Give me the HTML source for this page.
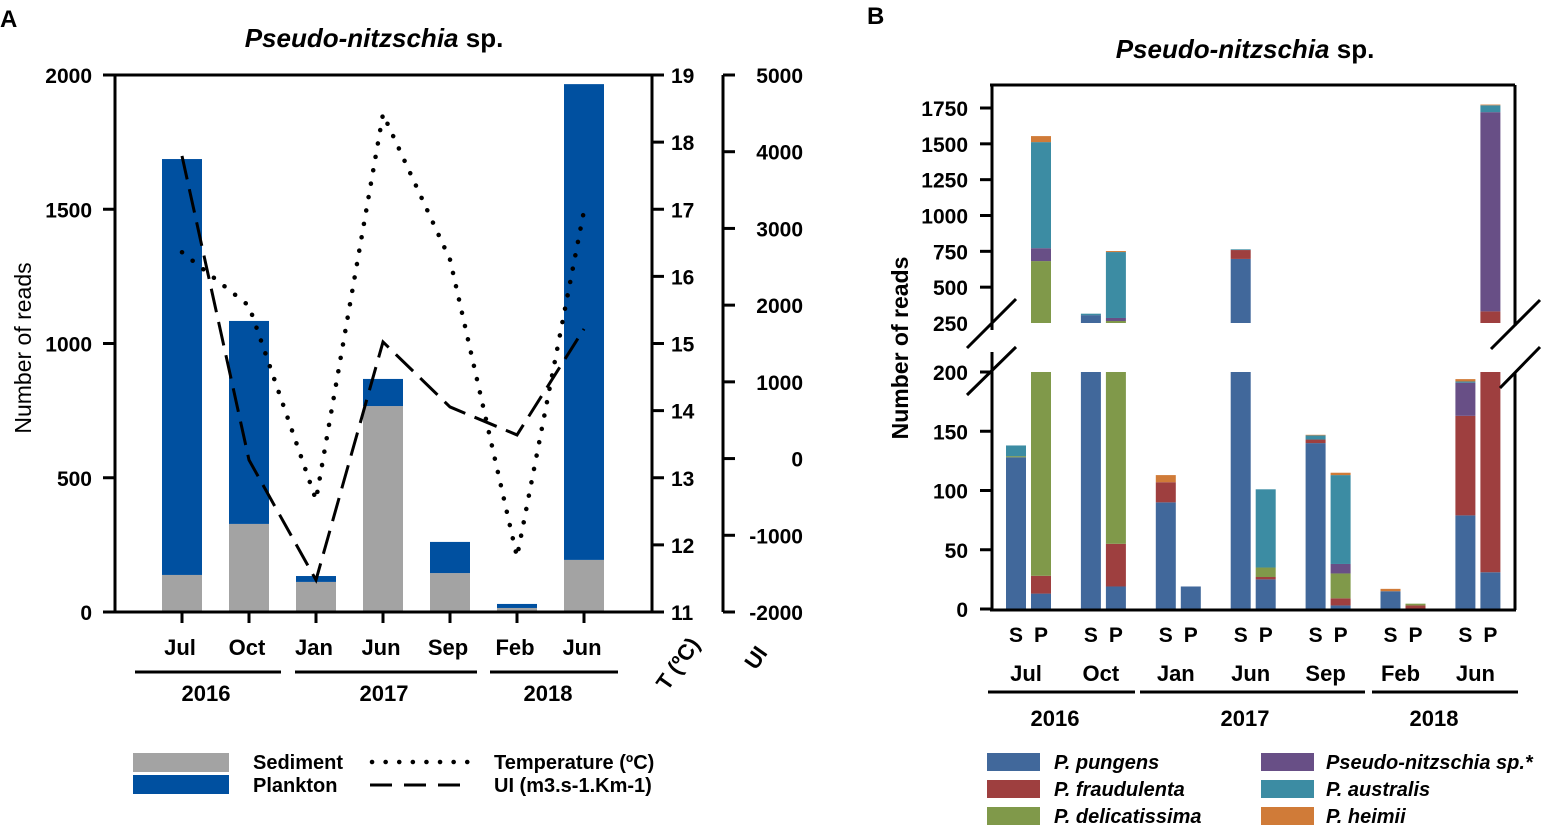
<!DOCTYPE html>
<html><head><meta charset="utf-8"><style>
body{margin:0;background:#fff;}
svg{display:block;font-family:"Liberation Sans",Arial,sans-serif;}
.b{font-weight:bold;}
</style></head><body>
<svg id="s" width="1545" height="829" viewBox="0 0 1545 829" xmlns="http://www.w3.org/2000/svg">
<g id="A">
<text x="0" y="27" font-size="24" class="b">A</text>
<text x="374" y="47" font-size="26" text-anchor="middle" class="b"><tspan font-style="italic">Pseudo-nitzschia</tspan> sp.</text>
<text transform="translate(31,348) rotate(-90)" font-size="23" text-anchor="middle">Number of reads</text>
</g>
<g id="B">
<text x="867" y="24" font-size="24" class="b">B</text>
<text x="1245" y="58" font-size="26" text-anchor="middle" class="b"><tspan font-style="italic">Pseudo-nitzschia</tspan> sp.</text>
<text transform="translate(908,348) rotate(-90)" font-size="23" text-anchor="middle" class="b">Number of reads</text>
</g>
</svg>
<script>
// ---- Panel A data ----
const monthsA = ["Jul","Oct","Jan","Jun","Sep","Feb","Jun"];
const sediment = [138, 328, 112, 767, 145, 15, 194];
const plankton = [1549, 756, 22, 101, 116, 15, 1772];
const temperature = [16.36, 15.56, 12.67, 18.42, 16.25, 11.82, 16.98];
const upwelling = [3945, -18, -1583, 1520, 673, 308, 1690];
const readTicksA = [0, 500, 1000, 1500, 2000];
const tempTicks = [11, 12, 13, 14, 15, 16, 17, 18, 19];
const uiTicks = [-2000, -1000, 0, 1000, 2000, 3000, 4000, 5000];
// ---- Panel B data ----
const monthsB = ["Jul","Oct","Jan","Jun","Sep","Feb","Jun"];
const species = ["P. pungens","P. fraudulenta","P. delicatissima","Pseudo-nitzschia sp.*","P. australis","P. heimii"];
const sedB = [
 [128,0,1,0,9,0],
 [305,0,0,0,10,0],
 [90,17,0,0,0,6],
 [697,62,0,0,5,0],
 [140,3,0,0,3.5,0.5],
 [15,0,0,0,0,2],
 [79,84,0,28,1,2]
];
const plkB = [
 [13,15,654,90,740,42],
 [19,36,209,21,460,7],
 [19,0,0,0,0,0],
 [25,2,8,0,66,0],
 [3,6,21,8,75,2],
 [0,3,1.5,0,0,0],
 [31,300,0,1390,48,5]
];
const lowTicks = [0,50,100,150,200];
const highTicks = [250,500,750,1000,1250,1500,1750];

const NS="http://www.w3.org/2000/svg";
const svg=document.getElementById('s');
const gA=document.getElementById('A'), gB=document.getElementById('B');
function mk(p,tag,at){const e=document.createElementNS(NS,tag);for(const k in at)e.setAttribute(k,at[k]);p.appendChild(e);return e;}
function tx(p,x,y,s,size,anchor,bold){const e=mk(p,'text',{x:x,y:y,'font-size':size,'text-anchor':anchor||'start'});if(bold)e.setAttribute('font-weight','bold');e.textContent=s;return e;}

// ---- Panel A scales ----
const aX0=115,aTop=75,aBot=612;
const xA=i=>182+i*67;
const yR=v=>aBot-v*(aBot-aTop)/2000;
const yT=t=>aBot-(t-11)*(aBot-aTop)/8;
const yU=u=>aBot-(u+2000)*(aBot-aTop)/7000;

for(let i=0;i<monthsA.length;i++){
  const r1=mk(gA,'rect',{x:xA(i)-20,y:yR(sediment[i]),width:40,height:yR(0)-yR(sediment[i]),fill:'#a3a3a3'});
  
  
  const tot=sediment[i]+plankton[i];
  const r2=mk(gA,'rect',{x:xA(i)-20,y:yR(tot),width:40,height:yR(sediment[i])-yR(tot),fill:'#0050a0'});
  
  
}
const tp=mk(gA,'polyline',{points:temperature.map((t,i)=>xA(i)+','+yT(t)).join(' '),fill:'none',stroke:'#000','stroke-width':4.5,'stroke-dasharray':'0.1 13.5','stroke-linecap':'round'});


const up=mk(gA,'polyline',{points:upwelling.map((u,i)=>xA(i)+','+yU(u)).join(' '),fill:'none',stroke:'#000','stroke-width':3,'stroke-dasharray':'24 10'});


mk(gA,'path',{d:`M${aX0},${aTop}V${aBot} M103,${aTop}H664 M652,${aTop}V${aBot} M${aX0-2},${aBot}H652`,stroke:'#000','stroke-width':3,fill:'none'});
readTicksA.forEach(v=>{mk(gA,'line',{x1:103,x2:aX0,y1:yR(v),y2:yR(v),stroke:'#000','stroke-width':3});
  const t=tx(gA,92,yR(v)+8,String(v),21,'end',true);
  
  });
tempTicks.forEach(v=>{mk(gA,'line',{x1:652,x2:664,y1:yT(v),y2:yT(v),stroke:'#000','stroke-width':3});
  const t=tx(gA,671,yT(v)+8,String(v),21,'start',true);
  
  });
mk(gA,'line',{x1:723,x2:723,y1:aTop,y2:aBot,stroke:'#000','stroke-width':3});
uiTicks.forEach(v=>{mk(gA,'line',{x1:723,x2:735,y1:yU(v),y2:yU(v),stroke:'#000','stroke-width':3});
  const t=tx(gA,803,yU(v)+8,String(v),21,'end',true);
  
  });
monthsA.forEach((m,i)=>{mk(gA,'line',{x1:xA(i),x2:xA(i),y1:aBot,y2:623,stroke:'#000','stroke-width':3});
  const t=tx(gA,xA(i)-2,655,m,22,'middle',true);
  
  });
[[135,281,206,'2016'],[295,477,384,'2017'],[490,618,548,'2018']].forEach(y=>{
  mk(gA,'line',{x1:y[0],x2:y[1],y1:672,y2:672,stroke:'#000','stroke-width':3});
  const t=tx(gA,y[2],701,y[3],22,'middle',true);
  
  });
let t1=tx(gA,0,0,'T (ºC)',22,'middle',true);t1.setAttribute('transform','translate(684,668) rotate(-55)');


let t2=tx(gA,0,0,'UI',22,'middle',true);t2.setAttribute('transform','translate(762,662) rotate(-55)');


mk(gA,'rect',{x:133,y:753,width:96,height:19,fill:'#a3a3a3'});
mk(gA,'rect',{x:133,y:775,width:96,height:19,fill:'#0050a0'});
mk(gA,'line',{x1:372,x2:468,y1:762,y2:762,stroke:'#000','stroke-width':4.5,'stroke-dasharray':'0.1 13.5','stroke-linecap':'round'});
mk(gA,'line',{x1:370,x2:460,y1:785,y2:785,stroke:'#000','stroke-width':3,'stroke-dasharray':'22 12'});
[[253,769,'Sediment'],[253,792,'Plankton'],[494,769,'Temperature (ºC)'],[494,792,'UI (m3.s-1.Km-1)']].forEach(l=>{
  const t=tx(gA,l[0],l[1],l[2],20,'start',true);
  
  });

// ---- Panel B ----
const colors=['#41689b','#9e3f3f','#80994a','#684f86','#3c8ca3','#d07b38'];
const bL=992,bR=1515,bTop=85,bBot=610;
const yLow=v=>609-v*(609-372)/200;
const yHigh=v=>323-(v-250)*(323-108)/1500;
const xB=(g,p)=>1016+g*74.9+p*25;
function drawStack(g,p,vals){
  let c=0;
  vals.forEach((v,k)=>{
    const a=c,b=c+v;c=b;
    if(v<=0)return;
    const lo=Math.min(a,200),hi=Math.min(b,200);
    if(hi>lo){const r=mk(gB,'rect',{x:xB(g,p)-10,y:yLow(hi),width:20,height:yLow(lo)-yLow(hi),fill:colors[k]});
      
      }
    const lo2=Math.max(a,250),hi2=Math.max(b,250);
    if(hi2>lo2){const r=mk(gB,'rect',{x:xB(g,p)-10,y:yHigh(hi2),width:20,height:yHigh(lo2)-yHigh(hi2),fill:colors[k]});
      
      }
  });
}
for(let g=0;g<monthsB.length;g++){drawStack(g,0,sedB[g]);drawStack(g,1,plkB[g]);}
mk(gB,'path',{d:`M${bL},${bTop}V330 M${bL},352V${bBot} M${bL-2},${bBot}H${bR+1} M${bL-2},${bTop}H${bR} M${bR},${bTop}V326 M${bR},372V${bBot}`,stroke:'#000','stroke-width':3,fill:'none'});
mk(gB,'path',{d:'M967,348L1016,299 M967,395L1016,347 M1491,349L1540,300 M1500,388L1540,347',stroke:'#000','stroke-width':3,fill:'none'});
lowTicks.forEach(v=>{mk(gB,'line',{x1:980,x2:bL,y1:yLow(v),y2:yLow(v),stroke:'#000','stroke-width':3});
  const t=tx(gB,968,yLow(v)+8,String(v),21,'end',true);
  
  });
highTicks.forEach(v=>{if(v>250)mk(gB,'line',{x1:980,x2:bL,y1:yHigh(v),y2:yHigh(v),stroke:'#000','stroke-width':3});
  const t=tx(gB,968,yHigh(v)+8,String(v),21,'end',true);
  
  });
monthsB.forEach((m,i)=>{
  ['S','P'].forEach((s,p)=>{const t=tx(gB,xB(i,p),642,s,21,'middle',true);
    
    });
  const t=tx(gB,xB(i,0)+10,681,m,22,'middle',true);
  
  
});
[[988,1135,1055,'2016'],[1140,1365,1245,'2017'],[1372,1518,1434,'2018']].forEach(y=>{
  mk(gB,'line',{x1:y[0],x2:y[1],y1:692,y2:692,stroke:'#000','stroke-width':3});
  const t=tx(gB,y[2],726,y[3],22,'middle',true);
  
  });
species.forEach((s,k)=>{
  const col=Math.floor(k/3),row=k%3;
  const sx=col?1261:987, ty=753+row*27;
  const r=mk(gB,'rect',{x:sx,y:ty,width:53,height:18,fill:colors[k]});
  
  
  const t=tx(gB,col?1326:1054,ty+16,s,20,'start',true);
  t.setAttribute('font-style','italic');
  
  
});
</script>
</body></html>
